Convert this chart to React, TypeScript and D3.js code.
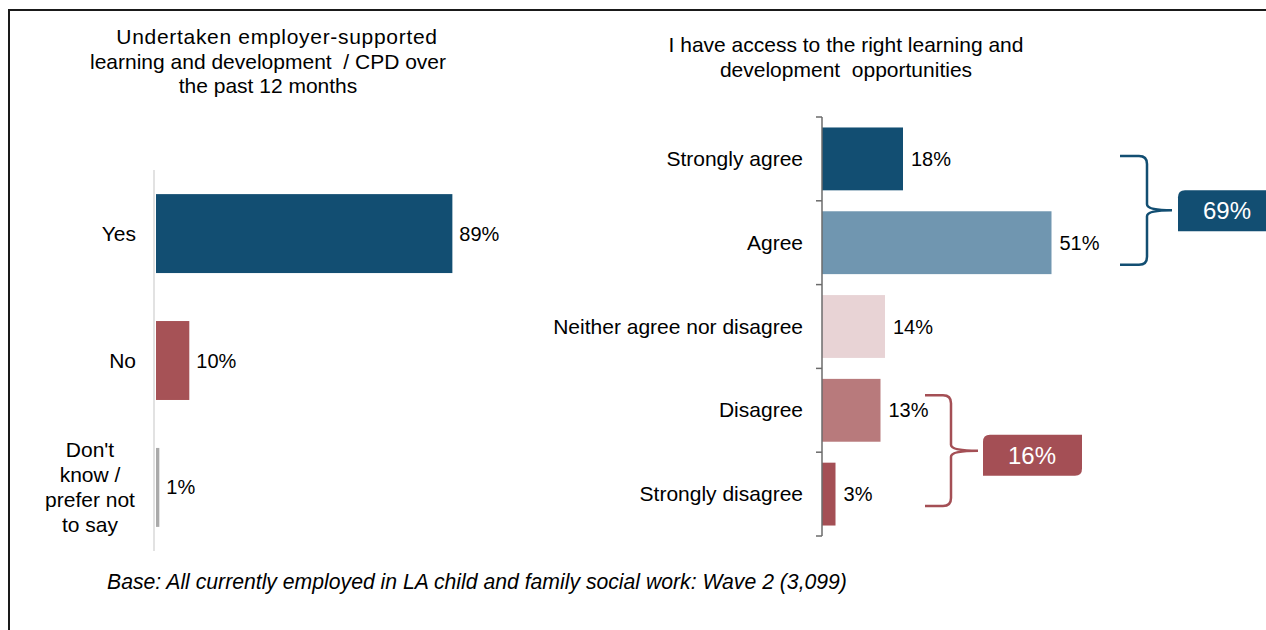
import React from "react";
import * as d3 from "d3";

const leftTitle = ["Undertaken employer-supported", "learning and development  / CPD over", "the past 12 months"];
const leftCategories = ["Yes", "No", "Don't know / prefer not to say"];
const leftLabelLines = [["Yes"], ["No"], ["Don't", "know /", "prefer not", "to say"]];
const leftValues = [89, 10, 1];
const leftColors = ["#124e72", "#a65256", "#aaaaaa"];

const rightTitle = ["I have access to the right learning and", "development  opportunities"];
const rightCategories = ["Strongly agree", "Agree", "Neither agree nor disagree", "Disagree", "Strongly disagree"];
const rightValues = [18, 51, 14, 13, 3];
const rightColors = ["#124e72", "#7096b0", "#e8d3d5", "#b87a7c", "#a44f55"];

const footnote = "Base: All currently employed in LA child and family social work: Wave 2 (3,099)";

const FONT = "Arial, 'Liberation Sans', sans-serif";

function bracePath(xl: number, xv: number, xt: number, top: number, bottom: number) {
  const mid = (top + bottom) / 2;
  const r = 8;
  const r2 = 6;
  return [
    `M${xl},${top}`,
    `L${xv - r},${top}`,
    `Q${xv},${top} ${xv},${top + r}`,
    `L${xv},${mid - r2}`,
    `Q${xv},${mid} ${xt},${mid}`,
    `Q${xv},${mid} ${xv},${mid + r2}`,
    `L${xv},${bottom - r}`,
    `Q${xv},${bottom} ${xv - r},${bottom}`,
    `L${xl},${bottom}`,
  ].join(" ");
}

function roundedBox(x: number, y: number, w: number, h: number, rTL: number, rBR: number) {
  return [
    `M${x + rTL},${y}`,
    `L${x + w},${y}`,
    `L${x + w},${y + h - rBR}`,
    `Q${x + w},${y + h} ${x + w - rBR},${y + h}`,
    `L${x},${y + h}`,
    `L${x},${y + rTL}`,
    `Q${x},${y} ${x + rTL},${y}`,
    "Z",
  ].join(" ");
}

export default function App() {
  const W = 1266;
  const H = 630;

  const xL = d3.scaleLinear().domain([0, 100]).range([155, 488]);
  const yL = d3.scaleBand<string>().domain(leftCategories).range([170, 551]).paddingInner(0.378).paddingOuter(0.19);

  const xR = d3.scaleLinear().domain([0, 100]).range([822, 1272]);
  const yR = d3.scaleBand<string>().domain(rightCategories).range([117, 536]).paddingInner(0.25).paddingOuter(0.125);
  const rStep = yR.step();
  const rStart = yR.range()[0];

  const fs = 21;
  const vfs = 20;

  const center = (s: d3.ScaleBand<string>, c: string) => (s(c) as number) + s.bandwidth() / 2;

  const blueTop = center(yR, "Strongly agree") - 3;
  const blueBottom = center(yR, "Agree") + 22;
  const redTop = center(yR, "Disagree") - 15;
  const redBottom = center(yR, "Strongly disagree") + 12;
  const blueSum = rightValues[0] + rightValues[1];
  const redSum = rightValues[3] + rightValues[4];
  const blueMid = (blueTop + blueBottom) / 2;
  const redMid = (redTop + redBottom) / 2;

  return (
    <svg width={W} height={H} style={{ position: "absolute", left: 0, top: 0, background: "#fff" }} fontFamily={FONT}>
      <rect x={0} y={0} width={W} height={H} fill="#fff" />
      <path d={`M9,${H} V10 H${W}`} fill="none" stroke="#1a1a1a" strokeWidth={2} />

      {/* Left title */}
      {leftTitle.map((t, i) => (
        <text key={i} x={i === 0 ? 277 : 268} y={44 + i * 24.5} textAnchor="middle" fontSize={fs} fill="#000"
          letterSpacing={i === 0 ? 0.7 : 0} style={{ whiteSpace: "pre" }}>{t}</text>
      ))}

      {/* Left axis */}
      <line x1={154} x2={154} y1={yL.range()[0]} y2={yL.range()[1]} stroke="#d9d9d9" strokeWidth={1.5} />
      {leftCategories.map((c, i) => {
        const yc = center(yL, c);
        const lines = leftLabelLines[i];
        return (
          <g key={c}>
            <rect x={xL(0) + 1} y={yL(c)} width={xL(leftValues[i]) - xL(0)} height={yL.bandwidth()} fill={leftColors[i]} />
            <text x={xL(leftValues[i]) + 8} y={yc + 7} fontSize={vfs} fill="#000">{leftValues[i]}%</text>
            {lines.length === 1 ? (
              <text x={136} y={yc + 7} textAnchor="end" fontSize={fs} fill="#000">{lines[0]}</text>
            ) : (
              lines.map((l, j) => (
                <text key={j} x={90} y={yc + 7 + (j - (lines.length - 1) / 2) * 25} textAnchor="middle" fontSize={fs} fill="#000">{l}</text>
              ))
            )}
          </g>
        );
      })}

      {/* Right title */}
      {rightTitle.map((t, i) => (
        <text key={i} x={846} y={52 + i * 25} textAnchor="middle" fontSize={fs} fill="#000" style={{ whiteSpace: "pre" }}>{t}</text>
      ))}

      {/* Right bars */}
      {rightCategories.map((c, i) => {
        const yc = center(yR, c);
        return (
          <g key={c}>
            <rect x={xR(0)} y={yR(c)} width={xR(rightValues[i]) - xR(0)} height={yR.bandwidth()} fill={rightColors[i]} />
            <text x={xR(rightValues[i]) + 8} y={yc + 7} fontSize={vfs} fill="#000">{rightValues[i]}%</text>
            <text x={803} y={yc + 7} textAnchor="end" fontSize={fs} fill="#000">{c}</text>
          </g>
        );
      })}
      <line x1={822} x2={822} y1={yR.range()[0]} y2={yR.range()[1]} stroke="#6b6b6b" strokeWidth={1.5} />
      {d3.range(rightCategories.length + 1).map((k) => (
        <line key={k} x1={816} x2={822} y1={rStart + k * rStep} y2={rStart + k * rStep} stroke="#6b6b6b" strokeWidth={1.5} />
      ))}

      {/* Blue bracket */}
      <path d={bracePath(1120, 1147, 1172, blueTop, blueBottom)} fill="none" stroke="#124e72" strokeWidth={2.5} />
      <path d={roundedBox(1178, blueMid - 20, 100, 41, 7, 7)} fill="#124e72" />
      <text x={1227} y={blueMid + 9} textAnchor="middle" fontSize={24} fill="#fff">{blueSum}%</text>

      {/* Red bracket */}
      <path d={bracePath(925, 951, 978, redTop, redBottom)} fill="none" stroke="#a44f55" strokeWidth={2.5} />
      <path d={roundedBox(983, redMid - 16, 99, 41, 7, 7)} fill="#a44f55" />
      <text x={1032} y={redMid + 13} textAnchor="middle" fontSize={24} fill="#fff">{redSum}%</text>

      {/* Footnote */}
      <text x={107} y={589} fontSize={21.2} fontStyle="italic" fill="#000">{footnote}</text>
    </svg>
  );
}
